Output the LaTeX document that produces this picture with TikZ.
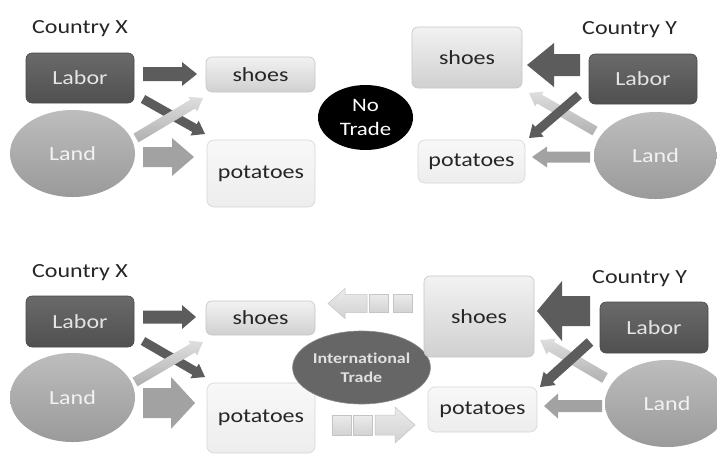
\documentclass[tikz,border=0pt]{standalone}
\usepackage{fontspec}
\setmainfont{Carlito}[FakeStretch=1.2, Ligatures=NoCommon]
\usetikzlibrary{calc,shapes.geometric}

\definecolor{ink}{HTML}{262626}
\definecolor{laborTop}{HTML}{6A6A6A}
\definecolor{laborBot}{HTML}{505050}
\definecolor{laborLine}{HTML}{4A4A4A}
\definecolor{laborText}{HTML}{E4E4E4}
\definecolor{landTop}{HTML}{BDBDBD}
\definecolor{landBot}{HTML}{9A9A9A}
\definecolor{landText}{HTML}{F2F2F2}
\definecolor{shoesTop}{HTML}{F2F2F2}
\definecolor{shoesBot}{HTML}{D0D0D0}
\definecolor{boxLine}{HTML}{C6C6C6}
\definecolor{potTop}{HTML}{F8F8F8}
\definecolor{potBot}{HTML}{EDEDED}
\definecolor{potLine}{HTML}{D6D6D6}
\definecolor{darkArrow}{HTML}{5C5C5C}
\definecolor{midArrow}{HTML}{A2A2A2}
\definecolor{lightTop}{HTML}{DEDEDE}
\definecolor{lightBot}{HTML}{B0B0B0}
\definecolor{tradeFill}{HTML}{666666}
\definecolor{tradeLine}{HTML}{8A8A8A}
\definecolor{tradeText}{HTML}{E0E0E0}
\definecolor{ghostTop}{HTML}{EBEBEB}
\definecolor{ghostBot}{HTML}{D2D2D2}
\definecolor{ghostLine}{HTML}{C4C4C4}

% block arrow: #1 style, #2 tail, #3 tip, #4 half shaft width,
% #5 half head width, #6 head length
\newcommand\blockarrow[6]{%
  \coordinate (ba-h) at ($(#3)!#6!(#2)$);
  \path[#1] ($(#2)!#4!90:(#3)$) -- ($(ba-h)!#4!-90:(#2)$)
    -- ($(ba-h)!#5!-90:(#2)$) -- (#3) -- ($(ba-h)!#5!90:(#2)$)
    -- ($(ba-h)!#4!90:(#2)$) -- ($(#2)!#4!-90:(#3)$) -- cycle;}

\begin{document}
\begin{tikzpicture}[x=1pt,y=-1pt,
  every node/.style={inner sep=0pt, font=\fontsize{20}{22}\selectfont},
  title/.style={anchor=base west, text=ink},
  labor/.style={rectangle, rounded corners=6pt, draw=laborLine, line width=0.6pt,
    top color=laborTop, bottom color=laborBot, text=laborText},
  land/.style={ellipse, top color=landTop, bottom color=landBot, text=landText},
  shoesbox/.style={rectangle, rounded corners=6pt, draw=boxLine, line width=0.6pt,
    top color=shoesTop, bottom color=shoesBot, text=ink},
  potbox/.style={rectangle, rounded corners=7pt, draw=potLine, line width=0.6pt,
    top color=potTop, bottom color=potBot, text=ink},
  notrade/.style={ellipse, fill=black, text=white, align=center,
    font=\fontsize{19}{24}\selectfont},
  trade/.style={ellipse, fill=tradeFill, draw=tradeLine, line width=0.6pt,
    text=tradeText, align=center, font=\bfseries\fontsize{15}{19}\selectfont},
  ghostsq/.style={rectangle, draw=ghostLine, line width=0.5pt,
    top color=ghostTop, bottom color=ghostBot},
  darkarrow/.style={fill=darkArrow},
  midarrow/.style={fill=midArrow},
  lightarrow/.style={top color=lightTop, bottom color=lightBot},
  ghostarrow/.style={draw=ghostLine, line width=0.5pt, top color=ghostTop, bottom color=ghostBot}]

\fill[white] (0,0) rectangle (717,456);
\useasboundingbox (0,0) rectangle (717,456);

% ---------------- upper panel: no trade ----------------
\node[title] (cX1) at (32,33) {Country X};
\node[labor, minimum width=108pt, minimum height=50pt] (labX1) at (80,78) {Labor};
\node[land, minimum width=125pt, minimum height=87pt] (landX1) at (72.5,153.5) {Land};
\node[shoesbox, minimum width=109pt, minimum height=35pt] (shoesX1) at (260.5,74.5) {shoes};
\node[potbox, minimum width=108pt, minimum height=67pt] (potX1) at (261,173.5) {potatoes};

\node[notrade, minimum width=95pt, minimum height=65pt] (nt) at (365.5,117.5) {No\\Trade};

\node[title] (cY1) at (582,34) {Country Y};
\node[shoesbox, minimum width=110pt, minimum height=61pt] (shoesY1) at (467,57.5) {shoes};
\node[potbox, minimum width=107pt, minimum height=43pt] (potY1) at (471.5,161.5) {potatoes};
\node[labor, minimum width=108pt, minimum height=50pt] (labY1) at (643,79) {Labor};
\node[land, minimum width=123pt, minimum height=87pt] (landY1) at (655.5,155.5) {Land};

\coordinate (a1s) at (143,74);  \coordinate (a1e) at (197,74);
\coordinate (a2s) at (143,99);  \coordinate (a2e) at (205,134);
\coordinate (a3s) at (136,138); \coordinate (a3e) at (203,98);
\coordinate (a4s) at (143,157); \coordinate (a4e) at (194,157);
\blockarrow{darkarrow}{a1s}{a1e}{7pt}{12pt}{15pt}
\blockarrow{darkarrow}{a2s}{a2e}{4.5pt}{8.5pt}{12pt}
\blockarrow{lightarrow}{a3s}{a3e}{5pt}{8.5pt}{12pt}
\blockarrow{midarrow}{a4s}{a4e}{10pt}{19pt}{22pt}

\coordinate (a5s) at (580,65);  \coordinate (a5e) at (527,65);
\coordinate (a6s) at (579,95);  \coordinate (a6e) at (529,138);
\coordinate (a7s) at (595,131); \coordinate (a7e) at (529,93);
\coordinate (a8s) at (590,157); \coordinate (a8e) at (532,157);
\blockarrow{darkarrow}{a5s}{a5e}{11pt}{22pt}{27pt}
\blockarrow{lightarrow}{a7s}{a7e}{5pt}{8.5pt}{12pt}
\blockarrow{darkarrow}{a6s}{a6e}{4.5pt}{8.5pt}{12pt}
\blockarrow{midarrow}{a8s}{a8e}{5.5pt}{10.5pt}{15pt}

% ---------------- lower panel: international trade ----------------
\node[title] (cX2) at (32,277) {Country X};
\node[labor, minimum width=108pt, minimum height=51pt] (labX2) at (80,321.5) {Labor};
\node[land, minimum width=125pt, minimum height=89pt] (landX2) at (72.5,397.5) {Land};
\node[shoesbox, minimum width=109pt, minimum height=34pt] (shoesX2) at (260.5,318) {shoes};
\node[potbox, minimum width=108pt, minimum height=70pt] (potX2) at (261,418) {potatoes};

% kern keeps the t and i of "International" as separate glyphs
\node[trade, minimum width=113pt, minimum height=73pt] (tr) at (361.5,367.5) {Internat\kern0pt ional\\Trade};

\node[title] (cY2) at (592,283) {Country Y};
\node[shoesbox, minimum width=110pt, minimum height=81pt] (shoesY2) at (479,316.5) {shoes};
\node[potbox, minimum width=109pt, minimum height=45pt] (potY2) at (482.5,409.5) {potatoes};
\node[labor, minimum width=108pt, minimum height=51pt] (labY2) at (654,327.5) {Labor};
\node[land, minimum width=124pt, minimum height=87pt] (landY2) at (667,403.5) {Land};

\coordinate (b1s) at (143,317); \coordinate (b1e) at (196,317);
\coordinate (b2s) at (143,341); \coordinate (b2e) at (205,377);
\coordinate (b3s) at (135,382); \coordinate (b3e) at (203,342);
\coordinate (b4s) at (143,403); \coordinate (b4e) at (195,403);
\blockarrow{darkarrow}{b1s}{b1e}{6.5pt}{12pt}{14pt}
\blockarrow{darkarrow}{b2s}{b2e}{4.5pt}{8.5pt}{12pt}
\blockarrow{lightarrow}{b3s}{b3e}{5pt}{8.5pt}{12pt}
\blockarrow{midarrow}{b4s}{b4e}{15pt}{26pt}{24pt}

\coordinate (b5s) at (590,311); \coordinate (b5e) at (537,311);
\coordinate (b6s) at (590,342); \coordinate (b6e) at (540,387);
\coordinate (b7s) at (605,378); \coordinate (b7e) at (540,340);
\coordinate (b8s) at (602,406); \coordinate (b8e) at (544,406);
\blockarrow{darkarrow}{b5s}{b5e}{15pt}{30pt}{25pt}
\blockarrow{lightarrow}{b7s}{b7e}{5.5pt}{9pt}{13pt}
\blockarrow{darkarrow}{b6s}{b6e}{5pt}{9pt}{13pt}
\blockarrow{midarrow}{b8s}{b8e}{6pt}{12.5pt}{14pt}

% trade flows: shoes go from Y to X, potatoes from X to Y
\node[ghostsq, minimum width=19pt, minimum height=18pt] (sq1) at (378.5,303.5) {};
\node[ghostsq, minimum width=19pt, minimum height=18pt] (sq2) at (402.5,303.5) {};
\coordinate (g1s) at (367,303.5); \coordinate (g1e) at (328,303.5);
\blockarrow{ghostarrow}{g1s}{g1e}{9pt}{15pt}{17pt}

\node[ghostsq, minimum width=19pt, minimum height=20pt] (sq3) at (341.5,425) {};
\node[ghostsq, minimum width=19pt, minimum height=20pt] (sq4) at (362.5,425) {};
\coordinate (g2s) at (375,425); \coordinate (g2e) at (415,425);
\blockarrow{ghostarrow}{g2s}{g2e}{10pt}{18pt}{20pt}

\end{tikzpicture}
\end{document}
